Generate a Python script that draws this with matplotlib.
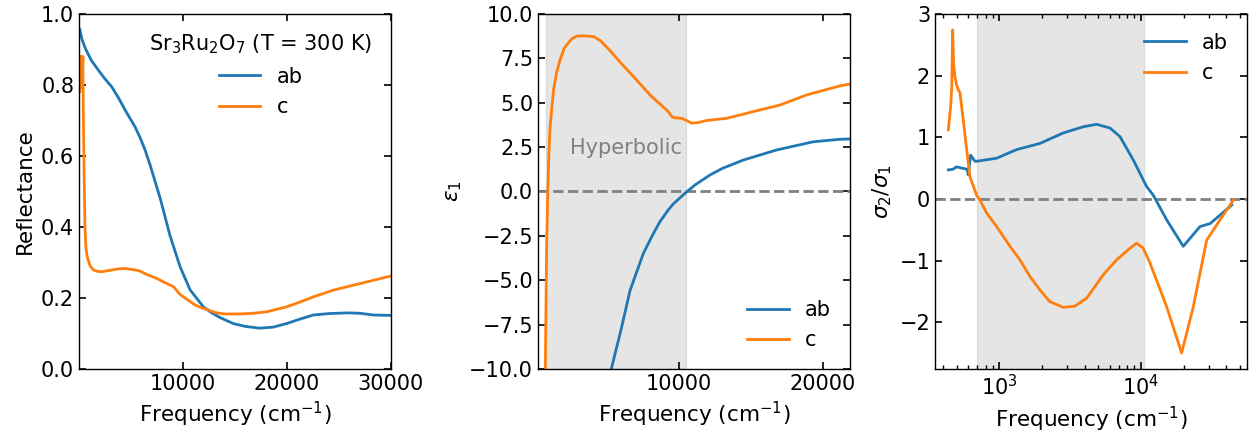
import numpy as np
import matplotlib
matplotlib.use("Agg")
import matplotlib.pyplot as plt

plt.rcParams['font.size'] = 15
plt.rcParams['axes.labelsize'] = 15.5
plt.rcParams['axes.linewidth'] = 1.0

# --- reflectance ---
R_ab_w = [40, 125, 300, 605, 1200, 1885, 2500, 3170, 3800, 4450, 5415, 5894, 6375,
          6856, 7817, 8779, 9740, 10700, 11980, 12790, 13560, 14840, 16000, 17400,
          18700, 19970, 21200, 22530, 24000, 25740, 27000, 28300, 30000]
R_ab = [0.96, 0.955, 0.93, 0.905, 0.87, 0.842, 0.818, 0.795, 0.765, 0.73, 0.682, 0.652,
        0.617, 0.575, 0.482, 0.375, 0.288, 0.223, 0.175, 0.158, 0.145, 0.128, 0.12,
        0.115, 0.118, 0.128, 0.14, 0.152, 0.156, 0.158, 0.157, 0.152, 0.151]

R_c_w = [40, 60, 80, 100, 130, 160, 200, 250, 300, 350, 400, 440, 520, 605, 700, 800,
         930, 1100, 1410, 1800, 2210, 3000, 3800, 4450, 5415, 5894, 6400, 7500, 8300,
         9096, 9740, 10200, 10700, 11200, 11830, 12300, 13100, 14000, 15480, 16800,
         18040, 19970, 21200, 22530, 24450, 26380, 28620, 30000]
R_c = [0.88, 0.80, 0.87, 0.78, 0.88, 0.79, 0.87, 0.80, 0.88, 0.82, 0.88, 0.73, 0.55,
       0.40, 0.34, 0.32, 0.305, 0.29, 0.279, 0.275, 0.274, 0.278, 0.282, 0.283, 0.279,
       0.276, 0.268, 0.255, 0.243, 0.232, 0.21, 0.2, 0.19, 0.18, 0.172, 0.168, 0.159,
       0.155, 0.155, 0.157, 0.161, 0.175, 0.188, 0.203, 0.222, 0.236, 0.252, 0.262]

# --- eps1 ---
e_ab_w = [5100, 5290, 5935, 6560, 6910, 7490, 8075, 8650, 9230, 9580, 10400, 11100,
          12140, 13000, 14460, 16790, 19340, 21200, 21900]
e_ab = [-11.2, -9.9, -7.8, -5.6, -4.8, -3.5, -2.55, -1.7, -1.04, -0.7, -0.1, 0.37,
        0.93, 1.3, 1.77, 2.34, 2.8, 2.94, 2.96]

e_c_w = [600, 660, 755, 825, 915, 1000, 1100, 1250, 1450, 1680, 1980, 2200, 2500, 2880,
         3500, 4040, 4500, 5100, 5750, 6910, 8075, 8700, 9230, 9500, 9700, 10170, 10500,
         10860, 11300, 11900, 13300, 15160, 17020, 18880, 21200, 21900]
e_c = [-12, -9.9, -2.9, -0.3, 2.3, 3.7, 4.6, 5.8, 6.7, 7.4, 8.07, 8.3, 8.6, 8.76, 8.76,
       8.72, 8.5, 8.0, 7.4, 6.38, 5.34, 4.9, 4.5, 4.2, 4.15, 4.12, 4.0, 3.85, 3.88, 4.0,
       4.12, 4.5, 4.87, 5.44, 5.95, 6.05]

# --- sigma2/sigma1 ---
s_ab_w = [437, 470, 500, 543, 595, 604, 628, 674, 692, 959, 1327, 1940, 2830, 3920,
          4860, 6040, 7110, 8830, 10960, 12210, 15180, 19880, 26070, 30800, 43700]
s_ab = [0.47, 0.48, 0.52, 0.5, 0.48, 0.39, 0.71, 0.61, 0.61, 0.66, 0.80, 0.90, 1.07,
        1.17, 1.21, 1.15, 1.01, 0.63, 0.20, 0.06, -0.34, -0.77, -0.45, -0.40, -0.10]

s_c_w = [437, 454, 462, 469, 476, 486, 500, 514, 528, 557, 589, 621, 692, 731, 815, 959,
         1191, 1400, 1648, 1940, 2280, 2830, 3420, 4140, 5420, 6730, 8360, 9320, 10380,
         11570, 15180, 19360, 23400, 29080, 36120, 44900]
s_c = [1.12, 1.5, 1.8, 2.74, 2.2, 1.99, 1.85, 1.77, 1.72, 1.28, 0.8, 0.36, 0.06, -0.02,
       -0.23, -0.45, -0.77, -0.99, -1.26, -1.48, -1.67, -1.76, -1.74, -1.61, -1.23,
       -0.99, -0.80, -0.72, -0.80, -1.04, -1.75, -2.50, -1.75, -0.67, -0.34, -0.02]

hyp_lo, hyp_hi = 700, 10500

fig = plt.figure(figsize=(12.5, 4.34), dpi=100)
w, h, b = 0.2496, 0.818, 0.1498
ax1 = fig.add_axes([0.0632, b, w, h])
ax2 = fig.add_axes([0.4304, b, w, h])
ax3 = fig.add_axes([0.748, b, w, h])

for ax in (ax1, ax2, ax3):
    ax.tick_params(which='both', direction='in', top=True, right=True)
    ax.tick_params(which='major', length=5, width=1.2)
    ax.tick_params(which='minor', length=3, width=1.0)

ax1.plot(R_ab_w, R_ab, color='tab:blue', lw=2, label='ab')
ax1.plot(R_c_w, R_c, color='tab:orange', lw=2, label='c')
ax1.set_xlim(30, 30000)
ax1.set_ylim(0, 1)
ax1.set_xticks([10000, 20000, 30000])
ax1.set_yticks(np.arange(0, 1.01, 0.2))
ax1.set_xlabel('Frequency (cm$^{-1}$)')
ax1.set_ylabel('Reflectance')
ax1.legend(loc='upper right', frameon=False, title='Sr$_3$Ru$_2$O$_7$ (T = 300 K)',
           title_fontsize=15)

ax2.axvspan(hyp_lo, hyp_hi, color='gray', alpha=0.2)
ax2.axhline(0, color='gray', ls='--', lw=2)
ax2.plot(e_ab_w, e_ab, color='tab:blue', lw=2, label='ab')
ax2.plot(e_c_w, e_c, color='tab:orange', lw=2, label='c')
ax2.text(2350, 2.45, 'Hyperbolic', color='gray', va='center', ha='left')
ax2.set_xlim(150, 21900)
ax2.set_ylim(-10, 10)
ax2.set_xticks([10000, 20000])
ax2.set_yticks(np.arange(-10, 10.1, 2.5))
ax2.set_xlabel('Frequency (cm$^{-1}$)')
ax2.set_ylabel(r'$\varepsilon_1$')
ax2.legend(loc='lower right', frameon=False)

ax3.axvspan(hyp_lo, hyp_hi, color='gray', alpha=0.2)
ax3.axhline(0, color='gray', ls='--', lw=2)
ax3.plot(s_ab_w, s_ab, color='tab:blue', lw=2, label='ab')
ax3.plot(s_c_w, s_c, color='tab:orange', lw=2, label='c')
ax3.set_xscale('log')
ax3.set_xlim(352, 56000)
ax3.set_ylim(-2.76, 3)
ax3.set_yticks([-2, -1, 0, 1, 2, 3])
ax3.set_xlabel('Frequency (cm$^{-1}$)')
ax3.set_ylabel(r'$\sigma_2/\sigma_1$')
ax3.legend(loc='upper right', frameon=False)

fig.savefig('out.png', dpi=100)
